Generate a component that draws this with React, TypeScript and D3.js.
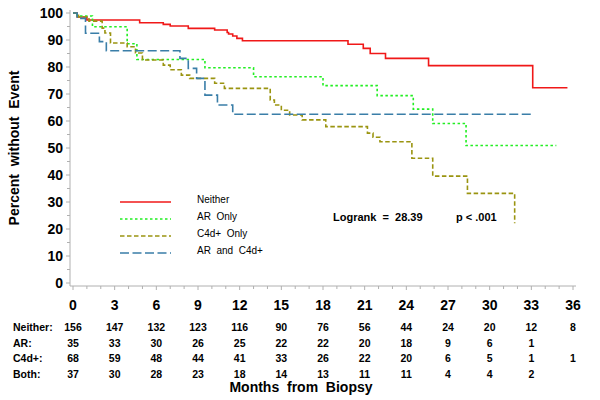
import React from "react";
import * as d3 from "d3";

const xTicks = [0, 3, 6, 9, 12, 15, 18, 21, 24, 27, 30, 33, 36];
const yTicks = [0, 10, 20, 30, 40, 50, 60, 70, 80, 90, 100];

// step curves: [month, percent]
const neitherTimes = [0, 0.3, 1.0, 4.8, 6.5, 7.0, 8.3, 10.2, 11.1, 11.2, 11.5, 11.8, 12.2, 19.8, 20.9, 21.4, 22.5, 25.6, 33.1, 35.6];
const neitherVals = [100, 98.5, 97.4, 96.4, 95.8, 95.2, 94.3, 93.7, 92.8, 92.2, 91.5, 90.6, 89.7, 88.4, 86.9, 85.0, 83.2, 80.5, 72.3, 72.3];

const arTimes = [0, 0.3, 1.4, 3.9, 4.6, 9.5, 13.0, 18.0, 21.9, 24.5, 25.9, 28.3, 34.8];
const arVals = [100, 98.9, 94.9, 88.6, 82.8, 79.7, 76.4, 73.1, 69.4, 64.4, 59.1, 50.9, 50.9];

const c4dTimes = [0, 0.4, 1.15, 2.1, 2.3, 2.7, 3.9, 4.5, 5.0, 6.5, 7.0, 7.8, 8.4, 10.2, 10.9, 14.2, 14.5, 15.0, 15.6, 16.5, 18.2, 21.2, 21.6, 22.1, 24.4, 25.9, 28.4, 31.8];
const c4dVals = [100, 98.5, 97.0, 94.4, 92.6, 88.9, 87.5, 85.2, 82.6, 80.7, 79.0, 77.0, 75.8, 74.0, 72.1, 67.8, 65.9, 64.0, 62.2, 60.4, 57.9, 55.5, 54.0, 52.3, 46.2, 39.6, 33.2, 22.1];

const bothTimes = [0, 0.3, 0.9, 1.9, 2.4, 7.7, 8.3, 8.9, 9.5, 10.4, 11.5, 33.1];
const bothVals = [100, 98.0, 92.5, 89.4, 86.0, 83.2, 79.5, 75.8, 69.6, 65.9, 62.5, 62.5];

const groupNames = ["Neither", "AR  Only", "C4d+  Only", "AR  and  C4d+"];
const riskLabels = ["Neither:", "AR:", "C4d+:", "Both:"];
const riskNeither = [156, 147, 132, 123, 116, 90, 76, 56, 44, 24, 20, 12, 8];
const riskAR = [35, 33, 30, 26, 25, 22, 22, 20, 18, 9, 6, 1, null];
const riskC4d = [68, 59, 48, 44, 41, 33, 26, 22, 20, 6, 5, 1, 1];
const riskBoth = [37, 30, 28, 23, 18, 14, 13, 11, 11, 4, 4, 2, null];

const colors = ["#f01818", "#22ee22", "#9a9410", "#3a7ea8"];
const dashes = ["", "2.5,2.5", "4.5,2.5", "9,3.5"];

export default function App() {
  const W = 600, H = 400;
  const x = d3.scaleLinear().domain([0, 36]).range([73, 573]);
  const y = d3.scaleLinear().domain([0, 100]).range([283, 13]);
  const font = "'Liberation Sans', Arial, sans-serif";
  const pre = { whiteSpace: "pre" as const };

  const series = [
    { t: neitherTimes, v: neitherVals },
    { t: arTimes, v: arVals },
    { t: c4dTimes, v: c4dVals },
    { t: bothTimes, v: bothVals },
  ];
  const line = d3.line<[number, number]>().x(d => x(d[0])).y(d => y(d[1])).curve(d3.curveStepAfter);

  const risks = [riskNeither, riskAR, riskC4d, riskBoth];
  const riskY = [327, 343, 358, 374];
  const legendY = [202, 219, 236, 253];
  const minorX = d3.range(0, 37, 1);
  const minorY = d3.range(0, 101, 5);

  return (
    <svg width={W} height={H} style={{ position: "absolute", left: 0, top: 0, background: "#fff" }} fontFamily={font}>
      <rect width={W} height={H} fill="#fff" />
      {/* axes */}
      <line x1={70} x2={70} y1={10} y2={286} stroke="#b0b0b0" strokeWidth={1} />
      <line x1={70} x2={576} y1={286} y2={286} stroke="#b0b0b0" strokeWidth={1} />
      {minorY.map(v => (
        <line key={"my" + v} x1={v % 10 === 0 ? 66 : 67} x2={70} y1={y(v)} y2={y(v)} stroke="#b0b0b0" />
      ))}
      {minorX.map(v => (
        <line key={"mx" + v} x1={x(v)} x2={x(v)} y1={286} y2={v % 3 === 0 ? 290 : 289} stroke="#b0b0b0" />
      ))}
      {yTicks.map(v => (
        <text key={"yt" + v} x={63} y={y(v)} dy="0.36em" textAnchor="end" fontSize={14} fontWeight="bold">{v}</text>
      ))}
      {xTicks.map(v => (
        <text key={"xt" + v} x={x(v)} y={305} dy="0.36em" textAnchor="middle" fontSize={14} fontWeight="bold">{v}</text>
      ))}
      <text transform={`translate(19,148) rotate(-90)`} textAnchor="middle" fontSize={14} fontWeight="bold" style={pre}>Percent  without  Event</text>

      {/* curves */}
      {series.map((s, i) => {
        const pts: [number, number][] = s.t.map((t, j) => [t, s.v[j]]);
        return (
          <path key={"s" + i} d={line(pts) || ""} fill="none" stroke={colors[i]} strokeWidth={1.6} strokeDasharray={dashes[i]} />
        );
      })}

      {/* legend */}
      {groupNames.map((n, i) => (
        <g key={"lg" + i}>
          <line x1={120} x2={171} y1={legendY[i]} y2={legendY[i]} stroke={colors[i]} strokeWidth={1.6} strokeDasharray={dashes[i]} />
          <text x={197} y={legendY[i] - 3} dy="0.35em" fontSize={10} style={pre}>{n}</text>
        </g>
      ))}
      <text x={333} y={217} dy="0.35em" fontSize={11} fontWeight="bold" style={pre}>Logrank  =  28.39</text>
      <text x={456} y={217} dy="0.35em" fontSize={11} fontWeight="bold" style={pre}>p &lt; .001</text>

      {/* at risk table */}
      {riskLabels.map((l, i) => (
        <g key={"rk" + i}>
          <text x={13} y={riskY[i]} dy="0.36em" fontSize={10.5} fontWeight="bold">{l}</text>
          {risks[i].map((v, j) => v === null ? null : (
            <text key={j} x={x(xTicks[j])} y={riskY[i]} dy="0.36em" textAnchor="middle" fontSize={10.5} fontWeight="bold">{v}</text>
          ))}
        </g>
      ))}
      <text x={301} y={387} dy="0.36em" textAnchor="middle" fontSize={14} fontWeight="bold" style={pre}>Months  from  Biopsy</text>
    </svg>
  );
}
